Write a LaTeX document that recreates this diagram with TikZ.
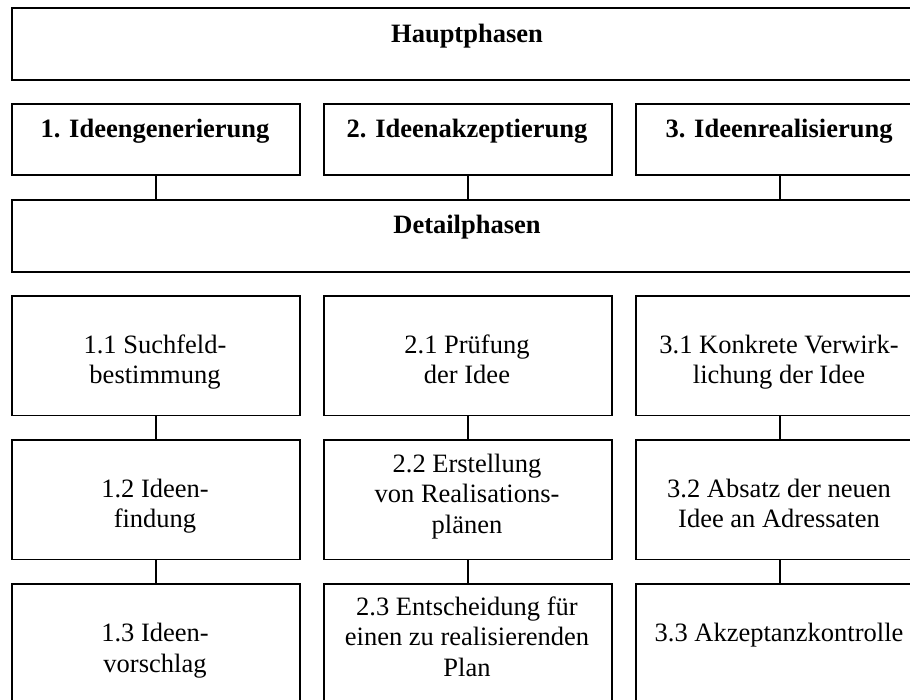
\documentclass[tikz,border=0pt]{standalone}
\usepackage{fontspec}
\setmainfont{Liberation Serif}
\begin{document}
\begin{tikzpicture}[x=1pt,y=-1pt,
  box/.style={draw=black, line width=1.7pt, rectangle, inner sep=0pt,
    anchor=north west, minimum width=288pt},
  widebox/.style={draw=black, line width=1.7pt, rectangle, inner sep=0pt,
    anchor=north west, minimum width=912pt, minimum height=72pt},
  headbox/.style={box, minimum height=71pt},
  detbox/.style={box, minimum height=119.5pt},
  txt/.style={anchor=north, inner sep=0pt, align=center,
    font=\fontsize{26.5}{30.5}\selectfont},
  btxt/.style={txt, font=\fontsize{26.5}{30.5}\selectfont\bfseries},
  link/.style={draw=black, line width=1.7pt}
]
\clip (0,0) rectangle (910,699);

% header bars
\node[widebox] (haupt) at (11,7) {};
\node[widebox] (detail) at (11,199) {};

% main phases
\node[headbox] (m1) at (11,103) {};
\node[headbox] (m2) at (323,103) {};
\node[headbox] (m3) at (635,103) {};

% detail phases
\node[detbox] (d11) at (11,295) {};
\node[detbox] (d21) at (323,295) {};
\node[detbox] (d31) at (635,295) {};
\node[detbox] (d12) at (11,439) {};
\node[detbox] (d22) at (323,439) {};
\node[detbox] (d32) at (635,439) {};
\node[detbox] (d13) at (11,583) {};
\node[detbox] (d23) at (323,583) {};
\node[detbox] (d33) at (635,583) {};

% connectors
\foreach \c in {1,2,3}{
  \draw[link] (m\c.south) -- (m\c.south |- detail.north);
  \draw[link] (d\c1.south) -- (d\c2.north);
  \draw[link] (d\c2.south) -- (d\c3.north);
}

% texts
\node[btxt] (t-haupt) at (467,20.65) {\strut Hauptphasen};
\node[btxt] (t-m1) at (155,115.65) {\strut 1. Ideengenerierung};
\node[btxt] (t-m2) at (467,115.65) {\strut 2. Ideenakzeptierung};
\node[btxt] (t-m3) at (779,115.65) {\strut 3. Ideenrealisierung};
\node[btxt] (t-detail) at (467,211.65) {\strut Detailphasen};

\node[txt] (t-d11) at (155,331.65) {\strut 1.1 Suchfeld-\\bestimmung};
\node[txt] (t-d21) at (467,331.65) {\strut 2.1 Prüfung\\der Idee};
\node[txt] (t-d31) at (779,331.65) {\strut 3.1 Konkrete Verwirk-\\lichung der Idee};

\node[txt] (t-d12) at (155,475.65) {\strut 1.2 Ideen-\\findung};
\node[txt] (t-d22) at (467,450.65) {\strut 2.2 Erstellung\\von Realisations-\\plänen};
\node[txt] (t-d32) at (779,475.65) {\strut 3.2 Absatz der neuen\\Idee an Adressaten};

\node[txt] (t-d13) at (155,620.15) {\strut 1.3 Ideen-\\vorschlag};
\node[txt] (t-d23) at (467,593.65) {\strut 2.3 Entscheidung für\\einen zu realisierenden\\Plan};
\node[txt] (t-d33) at (779,620.15) {\strut 3.3 Akzeptanzkontrolle};
\end{tikzpicture}
\end{document}
